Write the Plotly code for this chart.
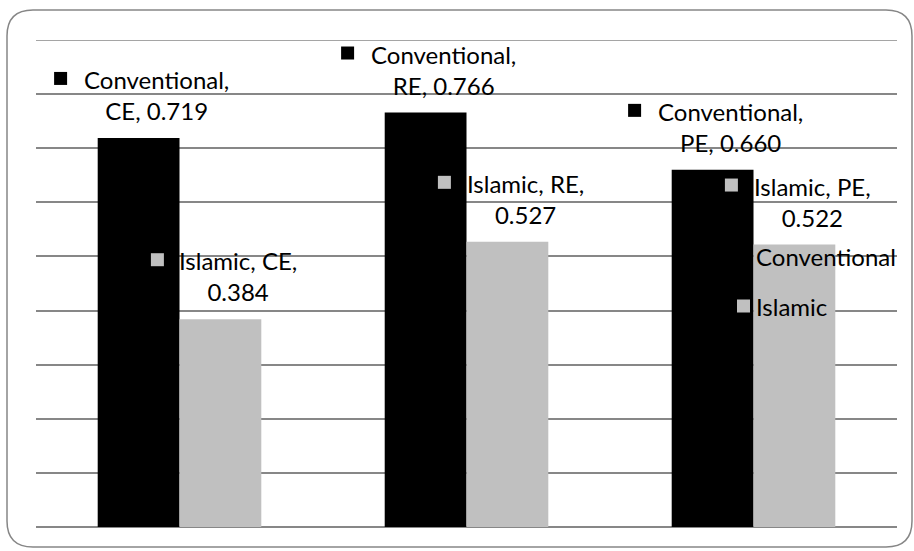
import plotly.graph_objects as go

# Efficiency scores by measure, conventional vs Islamic banks
measures = ["CE", "RE", "PE"]
conventional = [0.719, 0.766, 0.660]
islamic = [0.384, 0.527, 0.522]
series_names = ["Conventional", "Islamic"]
series_colors = ["#000000", "#c0c0c0"]
Y_MAX = 0.9

W, H = 914, 551
ML, MR, MT, MB = 36, 17, 40, 24
PW, PH = W - ML - MR, H - MT - MB
FONT = "Lato"
FS = 24
GRID = "#878787"

x_pos = list(range(len(measures)))
BARGAP = 0.43
half = (1 - BARGAP) / 4  # offset of each bar centre from its category centre

fig = go.Figure()
for name, vals, col in zip(series_names, [conventional, islamic], series_colors):
    fig.add_trace(go.Bar(x=x_pos, y=vals, name=name, marker=dict(color=col, line=dict(width=0)),
                         showlegend=False))

annotations, shapes = [], []
TEXT_DX, TEXT_DY = 18, 43      # text block centre relative to bar top-centre (px)
KEY_DY = TEXT_DY + 16.5        # key square level with first text line
KEY_DX = {"Conventional": -78, "Islamic": -63}
KEY = 13

for s, (name, vals, col) in enumerate(zip(series_names, [conventional, islamic], series_colors)):
    off = -half if s == 0 else half
    for i, (m, v) in enumerate(zip(measures, vals)):
        bx = x_pos[i] + off
        if name == "Conventional":
            label = f"{name},<br>{m}, {v:.3f}"
        else:
            label = f"{name}, {m},<br>{v:.3f}"
        annotations.append(dict(
            x=bx, y=v, xref="x", yref="y", xanchor="center", yanchor="middle",
            xshift=TEXT_DX, yshift=TEXT_DY, showarrow=False, align="center",
            text=label, font=dict(family=FONT, size=FS, color="#000000")))
        kx = KEY_DX[name]
        shapes.append(dict(
            type="rect", xref="x", yref="y", xsizemode="pixel", ysizemode="pixel",
            xanchor=bx, yanchor=v, x0=kx - KEY / 2, x1=kx + KEY / 2,
            y0=KEY_DY - KEY / 2, y1=KEY_DY + KEY / 2,
            fillcolor=col, line=dict(width=0), layer="above"))


def px2paper(px, py):
    return (px - ML) / PW, (H - MB - py) / PH


# Legend drawn as key squares with labels
for name, col, ly in zip(series_names, series_colors, [256, 306]):
    sx0, sy0 = px2paper(737, ly + 6.5)
    sx1, sy1 = px2paper(750, ly - 6.5)
    shapes.append(dict(type="rect", xref="paper", yref="paper", x0=sx0, x1=sx1, y0=sy0, y1=sy1,
                       fillcolor=col, line=dict(width=0), layer="above"))
    tx, ty = px2paper(754, ly)
    annotations.append(dict(x=tx, y=ty, xref="paper", yref="paper", xanchor="left", yanchor="middle",
                            showarrow=False, text=name,
                            font=dict(family=FONT, size=FS, color="#000000")))

# Top gridline at the upper edge of the value axis
shapes.append(dict(type="line", xref="paper", yref="y", x0=0, x1=1, y0=Y_MAX, y1=Y_MAX,
                   line=dict(color=GRID, width=1.5), layer="below"))

# Rounded chart border
L, R, T, B, r = 7, 912, 10, 547, 26
def P(px, py):
    x, y = px2paper(px, py)
    return f"{x:.5f},{y:.5f}"
path = (f"M {P(L + r, T)} L {P(R - r, T)} Q {P(R, T)} {P(R, T + r)} "
        f"L {P(R, B - r)} Q {P(R, B)} {P(R - r, B)} L {P(L + r, B)} "
        f"Q {P(L, B)} {P(L, B - r)} L {P(L, T + r)} Q {P(L, T)} {P(L + r, T)} Z")
shapes.append(dict(type="path", xref="paper", yref="paper", path=path,
                   line=dict(color="#868686", width=1.5), layer="below"))

fig.update_layout(
    width=W, height=H, margin=dict(l=ML, r=MR, t=MT, b=MB),
    paper_bgcolor="white", plot_bgcolor="white",
    barmode="group", bargap=BARGAP, bargroupgap=0,
    xaxis=dict(range=[-0.5, 2.5], showgrid=False, showticklabels=False, zeroline=False,
               showline=False, ticks=""),
    yaxis=dict(range=[0, Y_MAX], dtick=0.1, showgrid=True, gridcolor=GRID, gridwidth=1.5,
               showticklabels=False, zeroline=True, zerolinecolor=GRID, zerolinewidth=1.5,
               showline=False, ticks=""),
    annotations=annotations, shapes=shapes,
)

fig.write_html("out.html")
